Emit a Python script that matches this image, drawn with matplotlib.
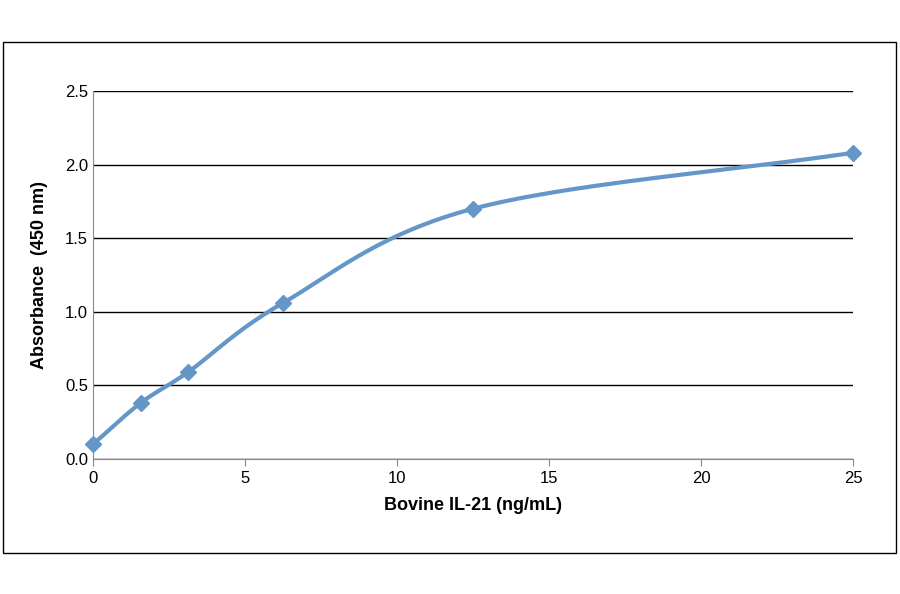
import numpy as np
import matplotlib
matplotlib.use("Agg")
import matplotlib.pyplot as plt
from matplotlib.patches import Rectangle

plt.rcParams['font.family'] = ['Liberation Sans', 'DejaVu Sans']

conc = [0, 1.5625, 3.125, 6.25, 12.5, 25]
absorb = [0.10, 0.38, 0.59, 1.06, 1.70, 2.08]
xticks = [0, 5, 10, 15, 20, 25]
yticks = [0.0, 0.5, 1.0, 1.5, 2.0, 2.5]

def smooth(x, y, n=40):
    # Catmull-Rom style smoothing (Excel-like), for drawing only
    x = np.asarray(x, float); y = np.asarray(y, float)
    px = np.concatenate([[2*x[0]-x[1]], x, [2*x[-1]-x[-2]]])
    py = np.concatenate([[2*y[0]-y[1]], y, [2*y[-1]-y[-2]]])
    xs, ys = [], []
    t = np.linspace(0, 1, n)
    for i in range(1, len(px)-2):
        for arr, out in ((px, xs), (py, ys)):
            p0, p1, p2, p3 = arr[i-1:i+3]
            out.extend(0.5*((2*p1) + (-p0+p2)*t + (2*p0-5*p1+4*p2-p3)*t**2 + (-p0+3*p1-3*p2+p3)*t**3))
    return xs, ys

fig = plt.figure(figsize=(9, 5.94), dpi=100)
fig.patches.append(Rectangle((3/900, 1-553/594), 893/900, 511/594, transform=fig.transFigure,
                             fill=False, edgecolor="black", linewidth=1))
ax = fig.add_axes([93/900, 1-459/594, 760/900, 368/594])
color = "#6497C8"
sx, sy = smooth(conc, absorb)
ax.plot(sx, sy, color=color, linewidth=3, zorder=3, clip_on=False)
ax.plot(conc, absorb, linestyle="none", marker="D", markersize=8, color=color, zorder=4, clip_on=False)
ax.set_xlim(0, 25)
ax.set_ylim(0, 2.5)
ax.set_xticks(xticks)
ax.set_yticks(yticks)
ax.set_yticklabels([f"{v:.1f}" for v in yticks])
ax.yaxis.grid(True, color="black", linewidth=1)
ax.set_axisbelow(True)
for s in ["top", "right"]:
    ax.spines[s].set_visible(False)
ax.spines["left"].set_color("#888888")
ax.spines["bottom"].set_color("#888888")
ax.tick_params(axis="both", labelsize=12, color="#888888", direction="out", length=5)
ax.tick_params(axis="y", direction="in", length=0)
ax.set_xlabel("Bovine IL-21 (ng/mL)", fontsize=13, fontweight="bold", labelpad=8)
ax.set_ylabel("Absorbance  (450 nm)", fontsize=13, fontweight="bold", labelpad=12)
fig.savefig("out.png", dpi=100)
